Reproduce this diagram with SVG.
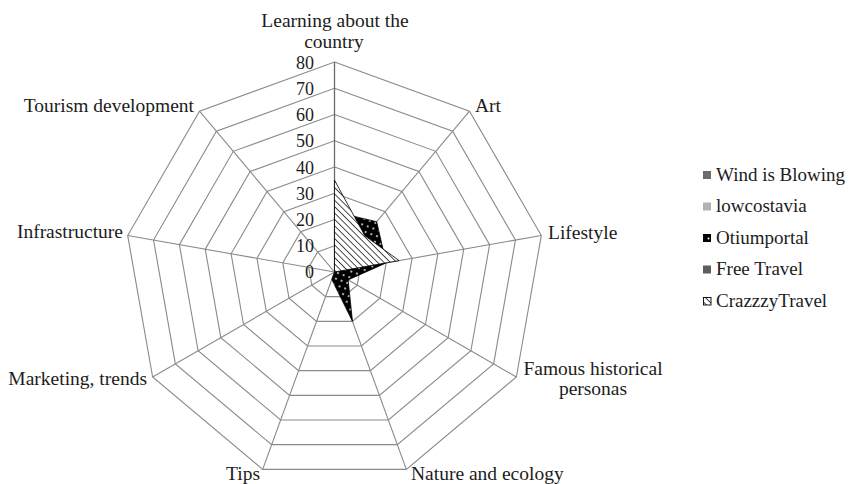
<svg xmlns="http://www.w3.org/2000/svg" xmlns:xlink="http://www.w3.org/1999/xlink" width="849" height="484" viewBox="0 0 849 484">
  <style>
    .ring { fill: none; stroke: #8a8a8a; stroke-width: 1.1; }
    .spoke { stroke: #8a8a8a; stroke-width: 1.1; }
    .vaxis { stroke: #6a6a6a; stroke-width: 1.3; }
    .lbl { font-family: "Liberation Serif", "Times New Roman", serif; font-size: 19.5px; fill: #1c1c1c; }
    .tick { font-family: "Liberation Serif", "Times New Roman", serif; font-size: 18px; fill: #1c1c1c; text-anchor: end; }
    .leg { font-family: "Liberation Serif", "Times New Roman", serif; font-size: 19px; fill: #1c1c1c; }
    .series { stroke: #000; stroke-width: 0.8; stroke-linejoin: round; }
  </style>
  <defs>
    <!-- unit nonagon, first vertex straight up -->
    <polygon id="nonagon" points="0,-1 0.642788,-0.766044 0.984808,-0.173648 0.866025,0.5 0.34202,0.939693 -0.34202,0.939693 -0.866025,0.5 -0.984808,-0.173648 -0.642788,-0.766044" vector-effect="non-scaling-stroke"/>
    <pattern id="hatch" patternUnits="userSpaceOnUse" width="4.5" height="4.5" patternTransform="rotate(-45)">
      <rect width="4.5" height="4.5" fill="#fff"/>
      <line x1="0" y1="0" x2="0" y2="4.5" stroke="#000" stroke-width="1.4"/>
    </pattern>
    <pattern id="dots" patternUnits="userSpaceOnUse" width="6" height="6" patternTransform="rotate(20)">
      <rect width="6" height="6" fill="#000"/>
      <circle cx="3" cy="3" r="0.9" fill="#fff"/>
    </pattern>
  </defs>

  <rect width="849" height="484" fill="#fff"/>

  <!-- value rings 10..80 -->
  <g id="grid">
    <use xlink:href="#nonagon" class="ring" transform="translate(334.5 272) scale(26.25)"/>
    <use xlink:href="#nonagon" class="ring" transform="translate(334.5 272) scale(52.5)"/>
    <use xlink:href="#nonagon" class="ring" transform="translate(334.5 272) scale(78.75)"/>
    <use xlink:href="#nonagon" class="ring" transform="translate(334.5 272) scale(105)"/>
    <use xlink:href="#nonagon" class="ring" transform="translate(334.5 272) scale(131.25)"/>
    <use xlink:href="#nonagon" class="ring" transform="translate(334.5 272) scale(157.5)"/>
    <use xlink:href="#nonagon" class="ring" transform="translate(334.5 272) scale(183.75)"/>
    <use xlink:href="#nonagon" class="ring" transform="translate(334.5 272) scale(210)"/>
    <!-- category spokes -->
    <line class="spoke" x1="334.5" y1="272" x2="469.49" y2="111.13"/>
    <line class="spoke" x1="334.5" y1="272" x2="541.31" y2="235.53"/>
    <line class="spoke" x1="334.5" y1="272" x2="516.37" y2="377"/>
    <line class="spoke" x1="334.5" y1="272" x2="406.32" y2="469.34"/>
    <line class="spoke" x1="334.5" y1="272" x2="262.68" y2="469.34"/>
    <line class="spoke" x1="334.5" y1="272" x2="152.63" y2="377"/>
    <line class="spoke" x1="334.5" y1="272" x2="127.69" y2="235.53"/>
    <line class="spoke" x1="334.5" y1="272" x2="199.51" y2="111.13"/>
    <line class="vaxis" x1="334.5" y1="272" x2="334.5" y2="62"/>
  </g>

  <!-- value axis ticks -->
  <g id="ticks">
    <text class="tick" x="314" y="278">0</text>
    <text class="tick" x="314" y="252">10</text>
    <text class="tick" x="314" y="226">20</text>
    <text class="tick" x="314" y="199.5">30</text>
    <text class="tick" x="314" y="173.5">40</text>
    <text class="tick" x="314" y="147">50</text>
    <text class="tick" x="314" y="121">60</text>
    <text class="tick" x="314" y="94.5">70</text>
    <text class="tick" x="314" y="68.5">80</text>
  </g>

  <!-- data series -->
  <g id="series">
    <polygon id="otiumportal" class="series" fill="url(#dots)" points="334.5,211.63 376.68,221.73 386.2,262.88 348.14,279.88 352.46,321.33 331.81,279.4 334.5,272 334.5,272 334.5,272"/>
    <polygon id="crazzzytravel" class="series" fill="url(#hatch)" points="334.5,180.13 364.87,235.8 399.13,260.6 334.5,272"/>
  </g>

  <!-- category labels -->
  <g id="labels">
    <text class="lbl" x="335" y="26.5" text-anchor="middle">Learning about the</text>
    <text class="lbl" x="334" y="48" text-anchor="middle">country</text>
    <text class="lbl" x="475" y="112">Art</text>
    <text class="lbl" x="548" y="239">Lifestyle</text>
    <text class="lbl" x="593" y="375" text-anchor="middle">Famous historical</text>
    <text class="lbl" x="593" y="395" text-anchor="middle">personas</text>
    <text class="lbl" x="411" y="480">Nature and ecology</text>
    <text class="lbl" x="260" y="480" text-anchor="end">Tips</text>
    <text class="lbl" x="147" y="385" text-anchor="end">Marketing, trends</text>
    <text class="lbl" x="123" y="238" text-anchor="end">Infrastructure</text>
    <text class="lbl" x="194" y="112" text-anchor="end">Tourism development</text>
  </g>

  <!-- legend -->
  <g id="legend">
    <g id="leg-wind">
      <rect x="703" y="171" width="8" height="8" fill="#6d6d6d"/>
      <text class="leg" x="716" y="180.5">Wind is Blowing</text>
    </g>
    <g id="leg-lowcostavia">
      <rect x="703" y="202.5" width="8" height="8" fill="#b3b3b3"/>
      <text class="leg" x="716" y="212">lowcostavia</text>
    </g>
    <g id="leg-otiumportal">
      <rect x="703" y="234" width="8" height="8" fill="#000"/>
      <circle cx="708.5" cy="238.5" r="1" fill="#fff"/>
      <text class="leg" x="716" y="243.5">Otiumportal</text>
    </g>
    <g id="leg-freetravel">
      <rect x="703" y="265.5" width="8" height="8" fill="#5e5e5e"/>
      <text class="leg" x="716" y="275">Free Travel</text>
    </g>
    <g id="leg-crazzzy">
      <rect x="703.5" y="297.5" width="7.5" height="7.5" fill="url(#hatch)" stroke="#000" stroke-width="0.9"/>
      <text class="leg" x="716" y="306.5">CrazzzyTravel</text>
    </g>
  </g>
</svg>
